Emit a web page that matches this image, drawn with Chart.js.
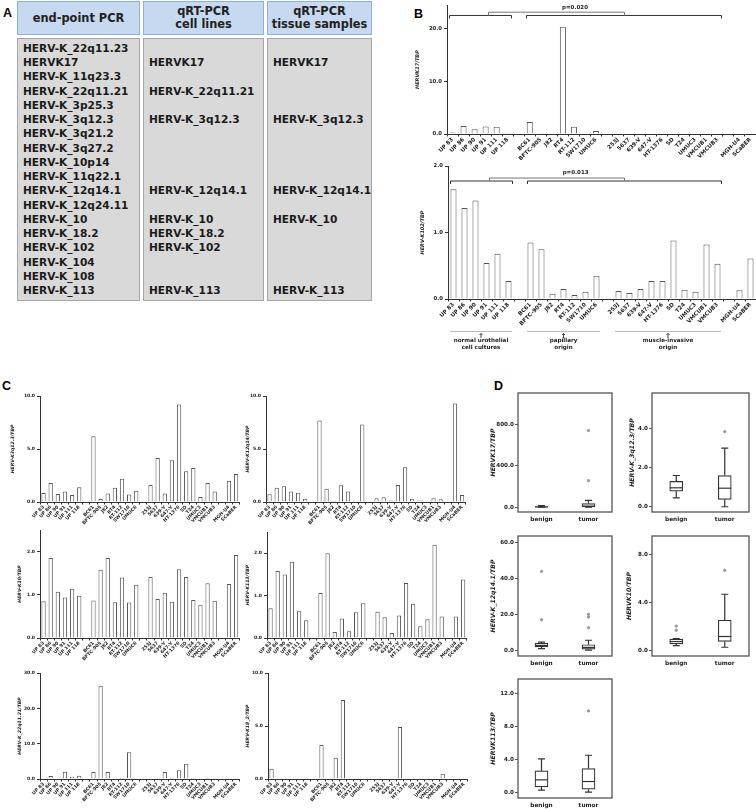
<!DOCTYPE html>
<html>
<head>
<meta charset="utf-8">
<script src="https://cdn.jsdelivr.net/npm/chart.js@4.4.1/dist/chart.umd.min.js"></script>
<style>
  body { margin: 0; background: #fff; }
  #fig { position: relative; width: 756px; height: 809px; overflow: hidden; font-family: "DejaVu Sans", Verdana, sans-serif; }
  .panel { position: absolute; font: bold 12.5px "Liberation Sans", Arial, sans-serif; color: #000; }
  .hd { position: absolute; top: 1px; height: 34px; background: #c6d9f1; border: 1px solid #8fb0d9; box-sizing: border-box;
        display: flex; align-items: center; justify-content: center; text-align: center; white-space: nowrap;
        font-weight: bold; font-size: 11.4px; line-height: 13px; color: #222; }
  .bd { position: absolute; top: 38px; height: 263px; background: #d9d9d9; border: 1px solid #a6a6a6; box-sizing: border-box;
        padding: 2px 0 0 5px; font-weight: bold; font-size: 10.6px; line-height: 14.24px; color: #1a1a1a; white-space: pre; overflow: hidden; }
  canvas { position: absolute; }
</style>
</head>
<body>
<div id="fig">
  <div class="panel" style="left:3px;top:6px">A</div>
  <div class="panel" style="left:414px;top:7px">B</div>
  <div class="panel" style="left:2px;top:379px">C</div>
  <div class="panel" style="left:494px;top:379px">D</div>

  <div class="hd" style="left:17px;width:123px">end-point PCR</div>
  <div class="hd" style="left:143px;width:121px">qRT-PCR<br>cell lines</div>
  <div class="hd" style="left:267px;width:105px">qRT-PCR<br>tissue samples</div>
  <div class="bd" id="colPcr" style="left:17px;width:123px"></div>
  <div class="bd" id="colCells" style="left:143px;width:121px"></div>
  <div class="bd" id="colTissue" style="left:267px;width:105px"></div>
</div>

<script>
// --- panel A: table rows ---
const pcrTargets = ['HERV-K_22q11.23', 'HERVK17', 'HERV-K_11q23.3', 'HERV-K_22q11.21', 'HERV-K_3p25.3',
  'HERV-K_3q12.3', 'HERV-K_3q21.2', 'HERV-K_3q27.2', 'HERV-K_10p14', 'HERV-K_11q22.1', 'HERV-K_12q14.1',
  'HERV-K_12q24.11', 'HERV-K_10', 'HERV-K_18.2', 'HERV-K_102', 'HERV-K_104', 'HERV-K_108', 'HERV-K_113'];
const cellLineTargets = ['', 'HERVK17', '', 'HERV-K_22q11.21', '', 'HERV-K_3q12.3', '', '', '', '',
  'HERV-K_12q14.1', '', 'HERV-K_10', 'HERV-K_18.2', 'HERV-K_102', '', '', 'HERV-K_113'];
const tissueTargets = ['', 'HERVK17', '', '', '', 'HERV-K_3q12.3', '', '', '', '',
  'HERV-K_12q14.1', '', 'HERV-K_10', '', '', '', '', 'HERV-K_113'];

// --- panels B and C: cell lines (empty label = spacer between groups) ---
const cellLines = ['UP 83', 'UP 86', 'UP 90', 'UP 91', 'UP 111', 'UP 118', '',
  'BC61', 'BFTC-905', 'J82', 'RT4', 'RT-112', 'SW1710', 'UMUC6', '',
  '253J', '5637', '639-V', '647-V', 'HT-1376', 'SD', 'T24', 'UMUC3', 'VMCUB1', 'VMCUB3', '',
  'MGH-U4', 'SCaBER'];
const groupNames = [['normal urothelial', 'cell cultures'], ['papillary', 'origin'], ['muscle-invasive', 'origin']];
const groupSpans = [[0, 5], [7, 13], [15, 24]];
const bracketSpans = [[0, 5], [7, 24]];

const hervK17 = [0.3, 1.5, 0.9, 1.45, 1.4, 0.25, null, 2.3, 0.12, 0, 20.4, 1.4, 0.03, 0.55, null,
  0, 0, 0, 0, 0, 0, 0.1, 0, 0.1, 0.1, null, 0.1, 0];
const hervK102 = [1.65, 1.37, 1.48, 0.54, 0.68, 0.27, null, 0.85, 0.75, 0.08, 0.15, 0.06, 0.11, 0.35, null,
  0.12, 0.09, 0.15, 0.27, 0.27, 0.88, 0.14, 0.11, 0.82, 0.53, null, 0.13, 0.61];
const hervK3q12 = [0.85, 1.8, 0.75, 1.0, 0.66, 1.4, null, 6.2, 0.28, 0.8, 1.35, 2.2, 0.7, 1.07, null,
  1.6, 4.15, 0.8, 3.93, 9.2, 2.9, 3.2, 0.47, 1.8, 1.0, null, 2.0, 2.65];
const hervK12q14 = [0.72, 1.35, 1.48, 1.0, 0.88, 0.31, null, 7.7, 1.26, 0.09, 1.57, 1.0, 0.12, 7.3, null,
  0.35, 0.44, 0.13, 1.6, 3.27, 0.3, 0.13, 0.06, 0.35, 0.25, null, 9.3, 0.66];
const hervK10 = [0.85, 1.85, 1.07, 0.94, 1.14, 0.98, null, 0.87, 1.58, 1.85, 0.83, 1.40, 0.82, 1.23, null,
  1.41, 0.90, 1.05, 0.84, 1.59, 1.41, 0.88, 0.77, 1.27, 0.86, null, 1.25, 1.92];
const hervK113 = [0.70, 1.58, 1.50, 1.80, 0.63, 0.42, null, 1.06, 2.0, 0.14, 0.46, 0.16, 0.61, 0.82, null,
  0.62, 0.49, 0.12, 0.53, 1.30, 0.81, 0.28, 0.44, 2.2, 0.51, null, 0.51, 1.38];
const hervK22q11 = [0.05, 0.85, 0, 2.05, 0.65, 0.95, null, 1.95, 26.4, 1.95, 0, 0.25, 7.55, 0, null,
  0, 0.2, 2.0, 0.35, 2.5, 4.3, 0.3, 0.05, 0.25, 0.1, null, 0.2, 0.1];
const hervK18 = [0.97, 0, 0, 0, 0, 0, null, 3.2, 0, 2.0, 7.45, 0, 0, 0, null,
  0, 0, 0, 4.9, 0, 0, 0, 0, 0, 0.5, null, 0, 0];

// --- panel D: tissue samples (box stats per group: benign, tumor) ---
const tissueGroups = ['benign', 'tumor'];
const k17Stats = { low: [0, 0], q1: [1, 3], med: [3, 10], q3: [6, 35], high: [14, 65] };
const k17Outliers = [['tumor', 257], ['tumor', 743]];
const k3q12Stats = { low: [0.45, 0.0], q1: [0.8, 0.38], med: [0.97, 0.95], q3: [1.3, 1.6], high: [1.6, 3.0] };
const k3q12Outliers = [['tumor', 3.85]];
const k12q14Stats = { low: [0.8, 0], q1: [1.8, 0.5], med: [2.5, 1.5], q3: [3.8, 3.0], high: [4.5, 5.5] };
const k12q14Outliers = [['benign', 17], ['benign', 44], ['tumor', 12.5], ['tumor', 18.5], ['tumor', 20]];
const k10Stats = { low: [0.4, 0.27], q1: [0.55, 0.76], med: [0.75, 1.17], q3: [0.95, 2.53], high: [1.0, 4.7] };
const k10Outliers = [['benign', 1.69], ['benign', 2.04], ['tumor', 6.7]];
const k113Stats = { low: [0.27, 0.05], q1: [0.66, 0.39], med: [1.52, 1.32], q3: [2.6, 2.89], high: [4.06, 4.49] };
const k113Outliers = [['tumor', 9.85]];

// fill table
document.getElementById('colPcr').textContent = pcrTargets.join('\n');
document.getElementById('colCells').textContent = cellLineTargets.join('\n');
document.getElementById('colTissue').textContent = tissueTargets.join('\n');

const FONT = '"DejaVu Sans", Verdana, sans-serif';
const AXIS = '#333';
const EDGE = '#555';
const TXT = '#222';
const fig = document.getElementById('fig');

// brackets with p-value above the cell-line bars (panel B)
const bracketPlugin = {
  id: 'brackets',
  afterDatasetsDraw(chart, args, o) {
    if (!o || !o.spans) return;
    const { ctx, chartArea: a, scales: { x } } = chart;
    const half = (x.getPixelForValue(1) - x.getPixelForValue(0)) / 2;
    const yb = a.top + o.dy, yu = a.top + o.du;
    ctx.save();
    ctx.lineWidth = 1;
    ctx.strokeStyle = '#333';
    o.spans.forEach(([i, j]) => {
      const x0 = Math.round(x.getPixelForValue(i) - half + 2) + 0.5;
      const x1 = Math.round(x.getPixelForValue(j) + half - 2) + 0.5;
      ctx.beginPath();
      ctx.moveTo(x0, yb + 3); ctx.lineTo(x0, yb); ctx.lineTo(x1, yb); ctx.lineTo(x1, yb + 3);
      ctx.stroke();
    });
    const u0 = Math.round(x.getPixelForValue(o.upper[0])) + 0.5;
    const u1 = Math.round(x.getPixelForValue(o.upper[1])) + 0.5;
    ctx.strokeStyle = '#777';
    ctx.beginPath();
    ctx.moveTo(u0, yb); ctx.lineTo(u0, yu); ctx.lineTo(u1, yu); ctx.lineTo(u1, yb);
    ctx.stroke();
    ctx.fillStyle = TXT;
    ctx.font = 'bold 5.5px ' + FONT;
    ctx.textAlign = 'center';
    ctx.textBaseline = 'middle';
    ctx.fillText(o.text, x.getPixelForValue(o.textAt), a.top + o.dt);
    ctx.restore();
  }
};

// group captions under the lower chart of panel B
const groupPlugin = {
  id: 'groupNotes',
  afterDraw(chart, args, o) {
    if (!o || !o.spans) return;
    const { ctx, chartArea: a, scales: { x } } = chart;
    const half = (x.getPixelForValue(1) - x.getPixelForValue(0)) / 2;
    const yl = a.bottom + o.dy;
    ctx.save();
    o.spans.forEach(([i, j], k) => {
      const x0 = x.getPixelForValue(i) - half + 2, x1 = x.getPixelForValue(j) + half - 2;
      const cx = (x0 + x1) / 2;
      ctx.strokeStyle = '#bbb';
      ctx.lineWidth = 1;
      ctx.beginPath(); ctx.moveTo(x0, yl + 0.5); ctx.lineTo(x1, yl + 0.5); ctx.stroke();
      ctx.strokeStyle = '#444';
      ctx.beginPath();
      ctx.moveTo(cx, yl + 7); ctx.lineTo(cx, yl + 2.5);
      ctx.moveTo(cx - 1.5, yl + 4); ctx.lineTo(cx, yl + 2.5); ctx.lineTo(cx + 1.5, yl + 4);
      ctx.stroke();
      ctx.fillStyle = TXT;
      ctx.font = 'bold 5.6px ' + FONT;
      ctx.textAlign = 'center';
      ctx.textBaseline = 'middle';
      o.names[k].forEach((t, n) => ctx.fillText(t, cx, yl + 10 + n * 6.6));
    });
    ctx.restore();
  }
};

function addCanvas(p) {
  const cv = document.createElement('canvas');
  cv.width = p.w;
  cv.height = p.h;
  cv.style.left = p.x + 'px';
  cv.style.top = p.y + 'px';
  fig.appendChild(cv);
  return cv;
}

function barChart(values, title, yMax, yTicks, p, extra = {}) {
  const cv = addCanvas(p);
  return new Chart(cv, {
    type: 'bar',
    data: {
      labels: cellLines,
      datasets: [{
        data: values,
        backgroundColor: '#fff',
        borderColor: EDGE,
        borderWidth: 1,
        barPercentage: p.bar,
        categoryPercentage: 1
      }]
    },
    options: {
      responsive: false,
      animation: false,
      events: [],
      layout: { padding: { top: p.pt, left: 0, right: 0, bottom: 0 } },
      plugins: {
        legend: { display: false },
        tooltip: { enabled: false },
        brackets: extra.brackets || false,
        groupNotes: extra.groups || false
      },
      scales: {
        x: {
          offset: true,
          grid: { offset: true, drawOnChartArea: false, tickLength: 2.5, color: AXIS },
          border: { color: AXIS },
          ticks: { autoSkip: false, minRotation: 45, maxRotation: 45, padding: 0, color: TXT,
                   font: { family: FONT, size: p.fx, weight: 'bold' } },
          afterFit: s => { s.height = p.xh; }
        },
        y: {
          min: 0,
          max: yMax,
          afterBuildTicks: s => { s.ticks = yTicks.map(v => ({ value: v })); },
          grid: { drawOnChartArea: false, tickLength: 3, color: AXIS },
          border: { color: AXIS },
          ticks: { callback: v => v.toFixed(1), color: TXT, padding: 2,
                   font: { family: FONT, size: p.fy, weight: 'bold' } },
          title: { display: true, text: title, color: TXT, padding: { top: p.tp, bottom: 0 },
                   font: { family: FONT, size: p.ft, weight: 'bold', style: 'italic' } },
          afterFit: s => { s.width = p.yw; }
        }
      }
    },
    plugins: [bracketPlugin, groupPlugin]
  });
}

// whiskers, caps, medians and frame of the box plots (panel D)
const whiskerPlugin = {
  id: 'whiskers',
  afterDatasetsDraw(chart, args, o) {
    if (!o || !o.stats) return;
    const { ctx, scales: { x, y } } = chart;
    const s = o.stats;
    ctx.save();
    ctx.strokeStyle = '#333';
    ctx.lineWidth = 1.2;
    s.low.forEach((lo, i) => {
      const cx = x.getPixelForValue(i);
      const cap = 3.5, box = 6.5;
      const yl = y.getPixelForValue(lo), yh = y.getPixelForValue(s.high[i]);
      const y1 = y.getPixelForValue(s.q1[i]), y3 = y.getPixelForValue(s.q3[i]);
      const ym = y.getPixelForValue(s.med[i]);
      ctx.beginPath();
      ctx.moveTo(cx, yl); ctx.lineTo(cx, y1);
      ctx.moveTo(cx, y3); ctx.lineTo(cx, yh);
      ctx.moveTo(cx - cap, yl); ctx.lineTo(cx + cap, yl);
      ctx.moveTo(cx - cap, yh); ctx.lineTo(cx + cap, yh);
      ctx.stroke();
      ctx.beginPath();
      ctx.moveTo(cx - box, ym); ctx.lineTo(cx + box, ym);
      ctx.stroke();
    });
    ctx.restore();
  },
  afterDraw(chart) {
    const { ctx, chartArea: a } = chart;
    ctx.save();
    ctx.strokeStyle = '#555';
    ctx.lineWidth = 1.3;
    ctx.strokeRect(a.left, a.top, a.right - a.left, a.bottom - a.top);
    ctx.restore();
  }
};

function boxChart(stats, outliers, title, yMin, yMax, yTicks, p) {
  const cv = addCanvas(p);
  return new Chart(cv, {
    type: 'bar',
    data: {
      labels: tissueGroups,
      datasets: [{
        data: stats.q1.map((q, i) => [q, stats.q3[i]]),
        backgroundColor: '#fff',
        borderColor: '#333',
        borderWidth: 1.2,
        borderSkipped: false,
        barThickness: 13
      }, {
        type: 'scatter',
        data: outliers.map(([g, v]) => ({ x: g, y: v })),
        pointRadius: 1.2,
        backgroundColor: '#999',
        borderColor: '#999'
      }]
    },
    options: {
      responsive: false,
      animation: false,
      events: [],
      layout: { padding: { top: p.pt, left: 0, right: 1, bottom: 0 } },
      plugins: { legend: { display: false }, tooltip: { enabled: false }, whiskers: { stats } },
      scales: {
        x: {
          type: 'category',
          offset: true,
          grid: { display: false, drawTicks: false, tickLength: 0 },
          border: { display: false },
          ticks: { color: TXT, padding: 4, maxRotation: 0,
                   font: { family: FONT, size: 5.8, weight: 'bold' } },
          afterFit: s => { s.height = p.xh; }
        },
        y: {
          min: yMin,
          max: yMax,
          afterBuildTicks: s => { s.ticks = yTicks.map(v => ({ value: v })); },
          grid: { drawOnChartArea: false, tickLength: 3, color: '#555' },
          border: { display: false },
          ticks: { callback: v => v.toFixed(1), color: TXT, padding: 1,
                   font: { family: FONT, size: 5.6, weight: 'bold' } },
          title: { display: true, text: title, color: TXT, padding: { top: p.tp, bottom: 0 },
                   font: { family: FONT, size: 6.2, weight: 'bold', style: 'italic' } },
          afterFit: s => { s.width = p.yw; }
        }
      }
    },
    plugins: [whiskerPlugin]
  });
}

// panel B
const bSize = { fx: 5.5, fy: 5.3, ft: 5, bar: 0.55 };
barChart(hervK17, 'HERVK17/TBP', 24.5, [0, 10, 20],
  { ...bSize, x: 365, y: 0, w: 391, h: 160, pt: 3, xh: 26, yw: 82, tp: 50 },
  { brackets: { spans: bracketSpans, upper: [3.2, 15.5], textAt: 11.1, text: 'p=0.020', dy: 10.3, du: 7, dt: 2.6 } });
barChart(hervK102, 'HERV-K102/TBP', 2.0, [0, 1, 2],
  { ...bSize, x: 365, y: 160, w: 391, h: 195, pt: 6, xh: 56, yw: 83, tp: 55 },
  { brackets: { spans: bracketSpans, upper: [3.2, 15.5], textAt: 11.1, text: 'p=0.013', dy: 15, du: 12, dt: 7 },
    groups: { spans: groupSpans, names: groupNames, dy: 32 } });

// panel C
const cSize = { fx: 4.6, fy: 4.5, ft: 4.6, bar: 0.6, yw: 40, pt: 6 };
barChart(hervK3q12, 'HERV-K3q12.3/TBP', 10, [0, 5, 10],
  { ...cSize, x: 0, y: 390, w: 240, h: 140, xh: 28, tp: 10.5 });
barChart(hervK12q14, 'HERV-K12q14/TBP', 10, [0, 5, 10],
  { ...cSize, x: 226, y: 390, w: 240, h: 140, xh: 28, tp: 19.5 });
barChart(hervK10, 'HERV-K10/TBP', 2.5, [0, 1, 2],
  { ...cSize, x: 0, y: 524, w: 240, h: 142, xh: 28, tp: 17 });
barChart(hervK113, 'HERV-K113/TBP', 2.5, [0, 1, 2],
  { ...cSize, x: 227, y: 526, w: 240, h: 140, xh: 28, tp: 18.5 });
barChart(hervK22q11, 'HERV-K_22q11.21/TBP', 30, [0, 10, 20, 30],
  { ...cSize, x: 0, y: 667, w: 240, h: 142, xh: 30, tp: 17 });
barChart(hervK18, 'HERV-K18_2/TBP', 10, [0, 5, 10],
  { ...cSize, x: 228, y: 667, w: 240, h: 142, xh: 30, tp: 17.5 });

// panel D
boxChart(k17Stats, k17Outliers, 'HERVK17/TBP', -47, 1106, [0, 400, 800],
  { x: 482, y: 388, w: 135, h: 138, pt: 2, xh: 14, yw: 36, tp: 7.5 });
boxChart(k3q12Stats, k3q12Outliers, 'HERV-K_3q12.3/TBP', -0.27, 5.83, [0, 2, 4],
  { x: 616, y: 388, w: 138, h: 138, pt: 2, xh: 14, yw: 36, tp: 12.5 });
boxChart(k12q14Stats, k12q14Outliers, 'HERV-K_12q14.1/TBP', -3.3, 63.8, [0, 20, 40, 60],
  { x: 482, y: 531, w: 135, h: 139, pt: 2, xh: 14, yw: 36, tp: 7.5 });
boxChart(k10Stats, k10Outliers, 'HERVK10/TBP', -0.46, 9.57, [0, 4, 8],
  { x: 616, y: 531, w: 138, h: 139, pt: 2, xh: 14, yw: 36, tp: 9.5 });
boxChart(k113Stats, k113Outliers, 'HERVK113/TBP', -0.67, 13.7, [0, 4, 8, 12],
  { x: 482, y: 674, w: 135, h: 138, pt: 2, xh: 14, yw: 36, tp: 7.5 });
</script>
</body>
</html>
